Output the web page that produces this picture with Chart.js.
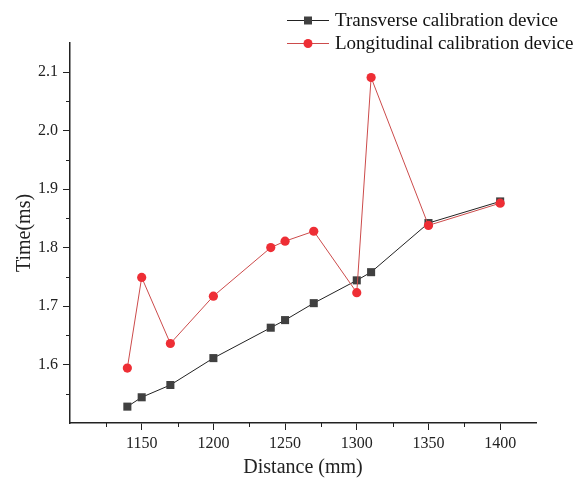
<!DOCTYPE html>
<html>
<head>
<meta charset="utf-8">
<script src="https://cdn.jsdelivr.net/npm/chart.js@4/dist/chart.umd.min.js"></script>
<style>
  html, body { margin: 0; padding: 0; background: #fff; }
  #wrap { width: 581px; height: 482px; }
</style>
</head>
<body>
<div id="wrap"><canvas id="timeChart"></canvas></div>
<script>
/*chart data*/
const distances = [1140, 1150, 1170, 1200, 1240, 1250, 1270, 1300, 1310, 1350, 1400];
const transverse = [1.528, 1.544, 1.565, 1.611, 1.663, 1.676, 1.705, 1.744, 1.758, 1.842, 1.879];
const longitudinal = [1.594, 1.749, 1.636, 1.717, 1.800, 1.811, 1.828, 1.723, 2.091, 1.838, 1.876];
const seriesNames = ['Transverse calibration device', 'Longitudinal calibration device'];

const serif = "'Liberation Serif', 'Times New Roman', serif";

function toPoints(ys) {
  return distances.map((d, i) => ({ x: d, y: ys[i] }));
}

/*minor ticks + legend drawn by hand, Origin style*/
const originStyle = {
  id: 'originStyle',
  afterDraw(chart) {
    const ctx = chart.ctx;
    const xs = chart.scales.x, ys = chart.scales.y;
    const area = chart.chartArea;
    ctx.save();
    ctx.strokeStyle = '#222';
    ctx.lineWidth = 1;
    xs.ticks.forEach(t => {
      if (t.value % 50 !== 0 && t.value < xs.max) {
        const px = Math.round(xs.getPixelForValue(t.value)) + 0.5;
        ctx.beginPath();
        ctx.moveTo(px, area.bottom);
        ctx.lineTo(px, area.bottom + 4);
        ctx.stroke();
      }
    });
    ys.ticks.forEach(t => {
      const v = Math.round(t.value * 100);
      if (v % 10 !== 0 && t.value < ys.max - 0.001) {
        const py = Math.round(ys.getPixelForValue(t.value)) + 0.5;
        ctx.beginPath();
        ctx.moveTo(area.left, py);
        ctx.lineTo(area.left - 4, py);
        ctx.stroke();
      }
    });

    // legend
    const rows = [
      { y: 20, line: '#222', fill: '#404040', shape: 'rect' },
      { y: 43, line: '#cc4b4b', fill: '#ee2e35', shape: 'circle' }
    ];
    ctx.font = '19px ' + serif;
    ctx.textBaseline = 'middle';
    rows.forEach((r, i) => {
      ctx.strokeStyle = r.line;
      ctx.beginPath();
      ctx.moveTo(287, r.y + 0.5);
      ctx.lineTo(329, r.y + 0.5);
      ctx.stroke();
      ctx.fillStyle = r.fill;
      ctx.beginPath();
      if (r.shape === 'rect') {
        ctx.rect(304, r.y - 3.5, 8, 8);
      } else {
        ctx.arc(308, r.y + 0.5, 4.5, 0, Math.PI * 2);
      }
      ctx.fill();
      ctx.fillStyle = '#111';
      ctx.fillText(seriesNames[i], 335, r.y + 1);
    });
    ctx.restore();
  }
};

const data = {
  datasets: [{
    label: seriesNames[0],
    data: toPoints(transverse),
    borderColor: '#222',
    borderWidth: 1,
    backgroundColor: '#404040',
    pointStyle: 'rect',
    pointRadius: 5.7,
    pointBorderWidth: 0,
    order: 2
  }, {
    label: seriesNames[1],
    data: toPoints(longitudinal),
    borderColor: '#cc4b4b',
    borderWidth: 1,
    backgroundColor: '#ee2e35',
    pointStyle: 'circle',
    pointRadius: 4.6,
    pointBorderWidth: 0,
    order: 1
  }]
};

const config = {
  type: 'line',
  data: data,
  options: {
    responsive: true,
    maintainAspectRatio: false,
    animation: false,
    layout: { padding: { top: 43, right: 45, left: 0, bottom: 0 } },
    plugins: {
      legend: { display: false },
      tooltip: { enabled: false }
    },
    scales: {
      x: {
        type: 'linear',
        min: 1100,
        max: 1425,
        afterFit(scale) { scale.height = 59; },
        border: { color: '#222', width: 1.5 },
        grid: {
          drawOnChartArea: false,
          tickLength: 7,
          tickColor: c => (c.tick && c.tick.value % 50 === 0 && c.tick.value !== 1100) ? '#222' : 'rgba(0,0,0,0)'
        },
        ticks: {
          stepSize: 25,
          autoSkip: false,
          maxRotation: 0,
          padding: 4,
          color: '#222',
          font: { family: serif, size: 16 },
          callback: v => (v % 50 === 0 && v !== 1100) ? String(v) : ''
        },
        title: {
          display: true,
          text: 'Distance (mm)',
          color: '#222',
          font: { family: serif, size: 20 },
          padding: { top: 0, bottom: 2 }
        }
      },
      y: {
        min: 1.5,
        max: 2.15,
        afterFit(scale) { scale.width = 70; },
        border: { color: '#222', width: 1.5 },
        grid: {
          drawOnChartArea: false,
          tickLength: 7,
          tickColor: c => {
            if (!c.tick) return 'rgba(0,0,0,0)';
            const v = Math.round(c.tick.value * 100);
            return (v % 10 === 0 && v !== 150) ? '#222' : 'rgba(0,0,0,0)';
          }
        },
        ticks: {
          stepSize: 0.05,
          autoSkip: false,
          padding: 5,
          color: '#222',
          font: { family: serif, size: 16 },
          callback: v => {
            const n = Math.round(v * 100);
            return (n % 10 === 0 && n !== 150) ? (n / 100).toFixed(1) : '';
          }
        },
        title: {
          display: true,
          text: 'Time(ms)',
          color: '#222',
          font: { family: serif, size: 20 },
          padding: { top: 13, bottom: 0 }
        }
      }
    }
  },
  plugins: [originStyle]
};

const timeChart = new Chart(document.getElementById('timeChart'), config);
</script>
</body>
</html>
